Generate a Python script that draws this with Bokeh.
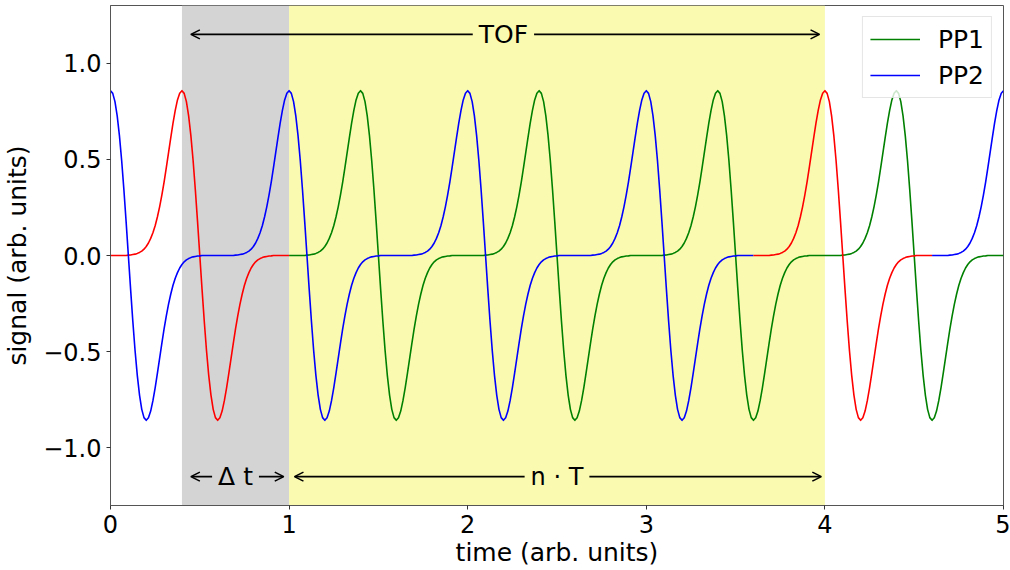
import numpy as np
from bokeh.plotting import figure
from bokeh.models import (Range1d, BoxAnnotation, Arrow, OpenHead, Label,
                          Legend, LegendItem, FixedTicker)
from bokeh.embed import file_html
from bokeh.resources import INLINE

# ---------------- data ----------------
# single pulse shape (signal value) sampled every 0.0125 time units,
# from 0.4 before to 0.4 after the pulse centre (zero crossing)
pulse_step = 0.0125
pulse_shape = [
    0.002, 0.003, 0.005, 0.007, 0.011, 0.016, 0.023, 0.033, 0.047, 0.065,
    0.089, 0.118, 0.155, 0.200, 0.253, 0.314, 0.382, 0.457, 0.535, 0.613,
    0.688, 0.755, 0.809, 0.844, 0.857, 0.843, 0.800, 0.726, 0.623, 0.494,
    0.342, 0.175, 0.000,
    -0.175, -0.342, -0.494, -0.623, -0.726, -0.800, -0.843, -0.857, -0.844,
    -0.809, -0.755, -0.688, -0.613, -0.535, -0.457, -0.382, -0.314, -0.253,
    -0.200, -0.155, -0.118, -0.089, -0.065, -0.047, -0.033, -0.023, -0.016,
    -0.011, -0.007, -0.005, -0.003, -0.002,
]
# pulse centres (zero crossings) of the two pulse trains
pp1_centers = [0.5, 1.5, 2.5, 3.5, 4.5]
pp2_centers = [0.1, 1.1, 2.1, 3.1, 4.1, 5.1]
# time windows drawn in red
pp1_red_window = (0.0, 1.0)
pp2_red_window = (3.6, 4.6)
# shaded spans
gray_span = (0.4, 1.0)
yellow_span = (1.0, 4.0)
# annotation arrows (start, end) and texts
tof_arrow = (0.45, 3.97)
dt_arrow = (0.45, 0.97)
nt_arrow = (1.03, 3.98)
arrow_y_top = 1.15
arrow_y_bottom = -1.15
x_ticks = [0, 1, 2, 3, 4, 5]
x_tick_labels = ["0", "1", "2", "3", "4", "5"]
y_ticks = [-1.0, -0.5, 0.0, 0.5, 1.0]
y_tick_labels = ["\u22121.0", "\u22120.5", "0.0", "0.5", "1.0"]

# ---------------- build curves ----------------
t_max = 5.0
n_t = int(round(t_max / pulse_step)) + 1
t = np.arange(n_t) * pulse_step
half = len(pulse_shape) // 2


def train(centers):
    y = np.zeros(n_t)
    for c in centers:
        ci = int(round(c / pulse_step))
        for j, v in enumerate(pulse_shape):
            k = ci - half + j
            if 0 <= k < n_t:
                y[k] += v
    return y


y1 = train(pp1_centers)
y2 = train(pp2_centers)
eps = 1e-9


def split(y, win):
    inside = (t >= win[0] - eps) & (t <= win[1] + eps)
    strict_inside = (t > win[0] + eps) & (t < win[1] - eps)
    y_red = np.where(inside, y, np.nan)
    y_main = np.where(strict_inside, np.nan, y)
    return y_main, y_red


y1_main, y1_red = split(y1, pp1_red_window)
y2_main, y2_red = split(y2, pp2_red_window)

FONT = "DejaVu Sans"
GRAY = "#d4d4d4"
YELLOW = "#fafab0"

p = figure(width=1010, height=570, output_backend="svg", toolbar_location=None,
           x_range=Range1d(0, 5), y_range=Range1d(-1.3, 1.3),
           min_border_left=110, min_border_right=7, min_border_top=5,
           min_border_bottom=65)
p.background_fill_color = "white"
p.border_fill_color = "white"
p.outline_line_color = "#555555"
p.outline_line_width = 1
p.xgrid.visible = False
p.ygrid.visible = False

# bands
p.add_layout(BoxAnnotation(left=gray_span[0], right=gray_span[1],
                           fill_color=GRAY, fill_alpha=1.0, line_color=None,
                           level="underlay"))
p.add_layout(BoxAnnotation(left=yellow_span[0], right=yellow_span[1],
                           fill_color=YELLOW, fill_alpha=1.0, line_color=None,
                           level="underlay"))

LW = 1.6
r_pp1 = p.line(t, y1_main, line_color="green", line_width=LW, line_join="round")
p.line(t, y1_red, line_color="red", line_width=LW, line_join="round")
r_pp2 = p.line(t, y2_main, line_color="blue", line_width=LW, line_join="round")
p.line(t, y2_red, line_color="red", line_width=LW, line_join="round")


# arrows
def add_arrow(span, y):
    p.add_layout(Arrow(start=OpenHead(size=9, line_width=1.6, line_color="black"),
                       end=OpenHead(size=9, line_width=1.6, line_color="black"),
                       x_start=span[0], y_start=y, x_end=span[1], y_end=y,
                       line_width=1.6, line_color="black"))


add_arrow(tof_arrow, arrow_y_top)
add_arrow(dt_arrow, arrow_y_bottom)
add_arrow(nt_arrow, arrow_y_bottom)


def add_text(txt, x, y, bg, size="25px"):
    p.add_layout(Label(x=x, y=y, text=txt, text_align="center",
                       text_baseline="middle", text_font=FONT,
                       text_font_size=size, text_color="black",
                       background_fill_color=bg, background_fill_alpha=1.0,
                       padding=6))


add_text("TOF", (gray_span[0] + yellow_span[1]) / 2, arrow_y_top, YELLOW)
add_text("\u0394 t", (gray_span[0] + gray_span[1]) / 2, arrow_y_bottom, GRAY)
add_text("n \u00b7 T", (yellow_span[0] + yellow_span[1]) / 2, arrow_y_bottom, YELLOW, "24px")

# axes
for ax in (p.xaxis[0], p.yaxis[0]):
    ax.axis_line_color = "#555555"
    ax.major_tick_line_color = "#333333"
    ax.major_tick_out = 4
    ax.major_tick_in = 0
    ax.minor_tick_line_color = None
    ax.major_label_text_font = FONT
    ax.major_label_text_font_size = "24px"
    ax.major_label_text_color = "black"
    ax.axis_label_text_font = FONT
    ax.axis_label_text_font_size = "25px"
    ax.axis_label_text_font_style = "normal"
    ax.axis_label_text_color = "black"
    ax.major_label_standoff = 5

p.xaxis.ticker = FixedTicker(ticks=x_ticks)
p.xaxis.major_label_overrides = {k: v for k, v in zip(x_ticks, x_tick_labels)}
p.yaxis.ticker = FixedTicker(ticks=y_ticks)
p.yaxis.major_label_overrides = {k: v for k, v in zip(y_ticks, y_tick_labels)}
p.xaxis.axis_label = "time (arb. units)"
p.yaxis.axis_label = "signal (arb. units)"
p.xaxis.axis_label_standoff = 2
p.yaxis.axis_label_standoff = 8

legend = Legend(items=[LegendItem(label="PP1", renderers=[r_pp1]),
                       LegendItem(label="PP2", renderers=[r_pp2])],
                location="top_right")
legend.label_text_font = FONT
legend.label_text_font_size = "25px"
legend.label_text_color = "black"
legend.glyph_width = 50
legend.glyph_height = 30
legend.label_height = 30
legend.label_standoff = 18
legend.spacing = 6
legend.padding = 7
legend.margin = 11
legend.border_line_color = "#cccccc"
legend.border_line_width = 1
legend.background_fill_color = "white"
legend.background_fill_alpha = 0.8
p.add_layout(legend)

open("out.html", "w").write(file_html(p, INLINE))
